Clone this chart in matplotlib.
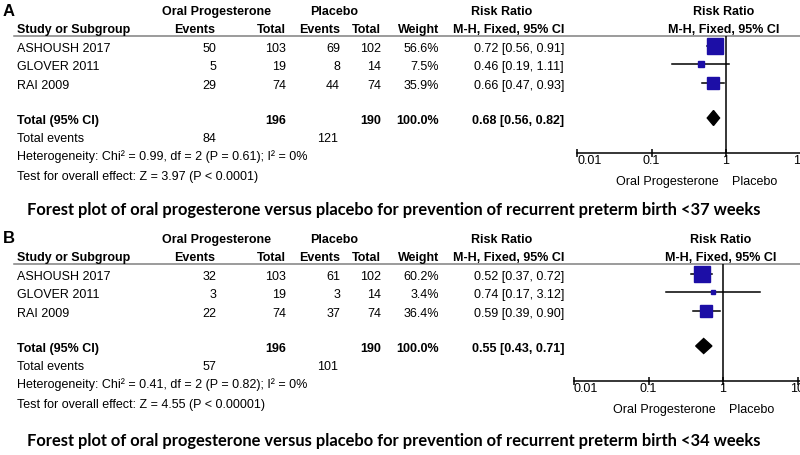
import numpy as np
import matplotlib
matplotlib.use("Agg")
import matplotlib.pyplot as plt

# study data (same three trials in both panels)
studies = ["ASHOUSH 2017", "GLOVER 2011", "RAI 2009"]
op_total = [103, 19, 74]
pl_total = [102, 14, 74]

# panel A: <37 weeks
a_op_events = [50, 5, 29]
a_pl_events = [69, 8, 44]
a_weight = [56.6, 7.5, 35.9]
a_rr = [0.72, 0.46, 0.66]
a_lo = [0.56, 0.19, 0.47]
a_hi = [0.91, 1.11, 0.93]
a_total_rr = [0.68, 0.56, 0.82]
a_het = "Heterogeneity: Chi² = 0.99, df = 2 (P = 0.61); I² = 0%"
a_test = "Test for overall effect: Z = 3.97 (P < 0.0001)"

# panel B: <34 weeks
b_op_events = [32, 3, 22]
b_pl_events = [61, 3, 37]
b_weight = [60.2, 3.4, 36.4]
b_rr = [0.52, 0.74, 0.59]
b_lo = [0.37, 0.17, 0.39]
b_hi = [0.72, 3.12, 0.90]
b_total_rr = [0.55, 0.43, 0.71]
b_het = "Heterogeneity: Chi² = 0.41, df = 2 (P = 0.82); I² = 0%"
b_test = "Test for overall effect: Z = 4.55 (P < 0.00001)"

ticks = [0.01, 0.1, 1, 10]
tick_labels = ["0.01", "0.1", "1", "10"]

W, H = 800, 456
BLUE = "#1c0ea6"
FONT = "Liberation Sans"
FS = 9

fig = plt.figure(figsize=(W / 100, H / 100), dpi=100)
bg = fig.add_axes([0, 0, 1, 1])
bg.set_xlim(0, W)
bg.set_ylim(H, 0)
bg.axis("off")


def txt(x, y, s, ha="left", bold=False, size=FS, family=FONT):
    bg.text(x, y, s, ha=ha, va="center", fontsize=size, family=family,
            fontweight="bold" if bold else "normal", color="black")


def panel(off, xoff, letter, op_ev, pl_ev, weight, rr, lo, hi, tot, het, test, caption):
    row_y = [47 + off, 65 + off, 84 + off]
    tot_y = 119 + off
    dy = 2

    txt(3, 11 + off, letter, bold=True, size=12)
    txt(217, 12 + off, "Oral Progesterone", ha="center", bold=True)
    txt(334, 12 + off, "Placebo", ha="center", bold=True)
    txt(502, 12 + off, "Risk Ratio", ha="center", bold=True)
    txt(724 + xoff, 12 + off, "Risk Ratio", ha="center", bold=True)

    hy = 30 + off
    txt(17, hy, "Study or Subgroup", bold=True)
    txt(215, hy, "Events", ha="right", bold=True)
    txt(286, hy, "Total", ha="right", bold=True)
    txt(340, hy, "Events", ha="right", bold=True)
    txt(381, hy, "Total", ha="right", bold=True)
    txt(439, hy, "Weight", ha="right", bold=True)
    txt(564, hy, "M-H, Fixed, 95% CI", ha="right", bold=True)
    txt(724 + xoff, hy, "M-H, Fixed, 95% CI", ha="center", bold=True)
    bg.plot([14, W], [37 + off, 37 + off], color="#808080", lw=1.1)

    for i, name in enumerate(studies):
        y = row_y[i] + dy
        txt(17, y, name)
        txt(216, y, str(op_ev[i]), ha="right")
        txt(286, y, str(op_total[i]), ha="right")
        txt(340, y, str(pl_ev[i]), ha="right")
        txt(381, y, str(pl_total[i]), ha="right")
        txt(439, y, f"{weight[i]:.1f}%", ha="right")
        txt(564, y, f"{rr[i]:.2f} [{lo[i]:.2f}, {hi[i]:.2f}]", ha="right")

    y = tot_y + dy
    txt(17, y, "Total (95% CI)", bold=True)
    txt(286, y, str(sum(op_total)), ha="right", bold=True)
    txt(381, y, str(sum(pl_total)), ha="right", bold=True)
    txt(439, y, f"{sum(weight):.1f}%", ha="right", bold=True)
    txt(564, y, f"{tot[0]:.2f} [{tot[1]:.2f}, {tot[2]:.2f}]", ha="right", bold=True)

    txt(17, 139 + off, "Total events")
    txt(216, 139 + off, str(sum(op_ev)), ha="right")
    txt(338, 139 + off, str(sum(pl_ev)), ha="right")
    txt(17, 157 + off, het)
    txt(17, 177 + off, test)

    # forest plot on a log scale; the right end runs off the figure edge
    left, right = 577 + xoff, 577 + xoff + 4 * 74.5
    top, bottom = 37 + off, 154 + off
    ax = fig.add_axes([left / W, 1 - bottom / H, (right - left) / W, (bottom - top) / H])
    ax.set_xscale("log")
    ax.set_xlim(0.01, 100)
    ax.set_ylim(bottom, top)
    ax.patch.set_alpha(0)
    for s in ["top", "left", "right"]:
        ax.spines[s].set_visible(False)
    ax.spines["bottom"].set_linewidth(1.1)
    ax.set_yticks([])
    ax.set_xticks(ticks)
    ax.set_xticklabels(tick_labels, family=FONT, fontsize=FS)
    ax.get_xticklabels()[0].set_ha("left")
    ax.minorticks_off()
    ax.tick_params(axis="x", direction="inout", length=6, width=1.1, pad=-2.5)
    ax.axvline(1, color="black", lw=1.1)

    for i in range(len(studies)):
        ax.plot([lo[i], hi[i]], [row_y[i], row_y[i]], color="black", lw=1.1, zorder=2)
        side = 2.0 * np.sqrt(weight[i])
        ax.plot(rr[i], row_y[i], marker="s", ms=side * 0.72, color=BLUE, mec=BLUE, zorder=3)
    ax.fill([tot[1], tot[0], tot[2], tot[0]],
            [tot_y, tot_y - 7.5, tot_y, tot_y + 7.5], color="black", zorder=3)

    txt(719 + xoff, 182 + off, "Oral Progesterone", ha="right")
    txt(732 + xoff, 182 + off, "Placebo")

    bg.text(27, 210 + off + (3 if off else 0), caption, ha="left", va="center",
            fontsize=11.9, family="Lato", fontweight="bold")


panel(0, 0, "A", a_op_events, a_pl_events, a_weight, a_rr, a_lo, a_hi, a_total_rr, a_het, a_test,
      "Forest plot of oral progesterone versus placebo for prevention of recurrent preterm birth <37 weeks")
panel(228, -3, "B", b_op_events, b_pl_events, b_weight, b_rr, b_lo, b_hi, b_total_rr, b_het, b_test,
      "Forest plot of oral progesterone versus placebo for prevention of recurrent preterm birth <34 weeks")

fig.savefig("out.png", dpi=100)
